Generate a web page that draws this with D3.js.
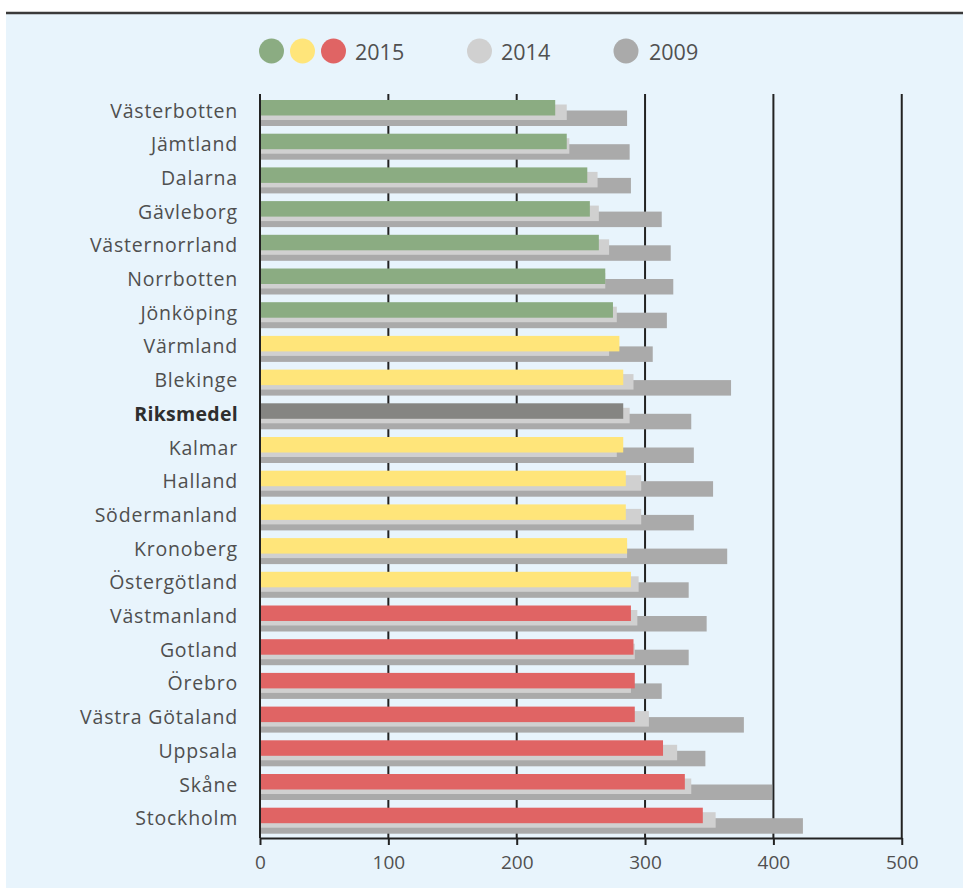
<!DOCTYPE html>
<html>
<head>
<meta charset="utf-8">
<script src="https://cdn.jsdelivr.net/npm/d3@7"></script>
<style>
  html, body { margin: 0; padding: 0; background: #ffffff; }
  svg { display: block; }
  text { font-family: "Open Sans", "Noto Sans", sans-serif; }
</style>
</head>
<body>
<svg id="chart" width="963" height="888"></svg>
<script>
// Regions, top to bottom
const regions = ["Västerbotten", "Jämtland", "Dalarna", "Gävleborg", "Västernorrland",
  "Norrbotten", "Jönköping", "Värmland", "Blekinge", "Riksmedel", "Kalmar", "Halland",
  "Södermanland", "Kronoberg", "Östergötland", "Västmanland", "Gotland", "Örebro",
  "Västra Götaland", "Uppsala", "Skåne", "Stockholm"];

// Colour class of each 2015 bar
const groups = ["green", "green", "green", "green", "green", "green", "green",
  "yellow", "yellow", "avg", "yellow", "yellow", "yellow", "yellow", "yellow",
  "red", "red", "red", "red", "red", "red", "red"];

const values2015 = [230, 239, 255, 257, 264, 269, 275, 280, 283, 283, 283, 285,
  285, 286, 289, 289, 291, 292, 292, 314, 331, 345];
const values2014 = [239, 241, 263, 264, 272, 269, 278, 272, 291, 288, 278, 297,
  297, 286, 295, 294, 292, 289, 303, 325, 336, 355];
const values2009 = [286, 288, 289, 313, 320, 322, 317, 306, 367, 336, 338, 353,
  338, 364, 334, 348, 334, 313, 377, 347, 399, 423];

const tickValues = [0, 100, 200, 300, 400, 500];
const legendYears = ["2015", "2014", "2009"];

const colors = {
  green: "#8bac82",
  yellow: "#ffe57a",
  red: "#e06464",
  avg: "#858582",
  y2014: "#d0d0d0",
  y2009: "#aaaaaa"
};

const svg = d3.select("#chart");

// Panel background and top rule
svg.append("rect").attr("x", 6).attr("y", 13).attr("width", 957).attr("height", 875)
  .attr("fill", "#e8f4fc");
svg.append("line").attr("x1", 6).attr("x2", 963).attr("y1", 13).attr("y2", 13)
  .attr("stroke", "#3a3a3a").attr("stroke-width", 2.5);

const x = d3.scaleLinear().domain([0, 500]).range([260, 901.75]);
const y = d3.scaleBand().domain(regions).range([100, 100 + 22 * 33.7]).padding(0);

const gridTop = 94, axisY = 838;

// Vertical grid lines (behind the bars)
svg.append("g").selectAll("line")
  .data(tickValues.filter(t => t > 0))
  .join("line")
  .attr("x1", d => x(d)).attr("x2", d => x(d))
  .attr("y1", gridTop).attr("y2", axisY)
  .attr("stroke", "#222").attr("stroke-width", 2);

const rows = regions.map((r, i) => ({
  region: r, group: groups[i], v15: values2015[i], v14: values2014[i], v09: values2009[i]
}));

const bars = svg.append("g");
const barH = 15.5;

// 2009 (lowest layer)
bars.selectAll("rect.b09").data(rows).join("rect").attr("class", "b09")
  .attr("x", x(0)).attr("y", d => y(d.region) + 10.5)
  .attr("width", d => x(d.v09) - x(0)).attr("height", barH)
  .attr("fill", colors.y2009);

// 2014
bars.selectAll("rect.b14").data(rows).join("rect").attr("class", "b14")
  .attr("x", x(0)).attr("y", d => y(d.region) + 4.5)
  .attr("width", d => x(d.v14) - x(0)).attr("height", barH)
  .attr("fill", colors.y2014);

// 2015 (top layer)
bars.selectAll("rect.b15").data(rows).join("rect").attr("class", "b15")
  .attr("x", x(0)).attr("y", d => y(d.region))
  .attr("width", d => x(d.v15) - x(0)).attr("height", barH)
  .attr("fill", d => colors[d.group]);

// Region labels
svg.append("g").selectAll("text").data(rows).join("text")
  .attr("x", 238).attr("y", d => y(d.region) + 10)
  .attr("text-anchor", "end").attr("dominant-baseline", "central")
  .attr("font-size", 19.5)
  .attr("letter-spacing", d => d.group === "avg" ? 0.3 : 0.8)
  .attr("font-weight", d => d.group === "avg" ? 700 : 400)
  .attr("fill", d => d.group === "avg" ? "#2e2e2e" : "#4f4f4f")
  .text(d => d.region);

// Bottom axis
const axis = d3.axisBottom(x).tickValues(tickValues).tickSize(7).tickSizeOuter(0)
  .tickPadding(11);
const gAxis = svg.append("g").attr("transform", `translate(0,${axisY})`).call(axis);
gAxis.select(".domain").attr("stroke", "#222").attr("stroke-width", 2);
gAxis.selectAll(".tick line").attr("stroke", "#222").attr("stroke-width", 2);
gAxis.selectAll(".tick text").attr("font-size", 19).attr("fill", "#505050")
  .attr("font-family", "'Open Sans', 'Noto Sans', sans-serif");

// Zero line drawn over the bar starts
svg.append("line").attr("x1", x(0)).attr("x2", x(0))
  .attr("y1", gridTop).attr("y2", axisY)
  .attr("stroke", "#222").attr("stroke-width", 2);

// Legend
const legend = svg.append("g");
const legendCircles = [
  { cx: 271.5, color: colors.green },
  { cx: 302.5, color: colors.yellow },
  { cx: 333.5, color: colors.red },
  { cx: 479.5, color: colors.y2014 },
  { cx: 626, color: colors.y2009 }
];
legend.selectAll("circle").data(legendCircles).join("circle")
  .attr("cx", d => d.cx).attr("cy", 51).attr("r", 12.5)
  .attr("fill", d => d.color);
const legendText = [
  { x: 355, label: legendYears[0] },
  { x: 501, label: legendYears[1] },
  { x: 649, label: legendYears[2] }
];
legend.selectAll("text").data(legendText).join("text")
  .attr("x", d => d.x).attr("y", 51)
  .attr("dominant-baseline", "central")
  .attr("font-size", 21.5).attr("fill", "#505050")
  .text(d => d.label);
</script>
</body>
</html>
